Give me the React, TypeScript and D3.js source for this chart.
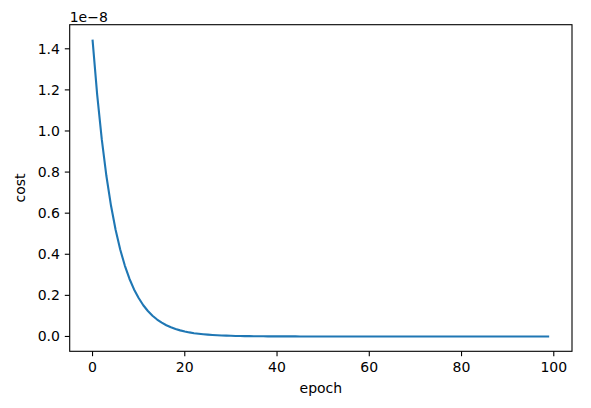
import React from "react";
import * as d3 from "d3";

const epochs: number[] = Array.from({ length: 100 }, (_, i) => i);
// cost values in units of 1e-8
const costHead: number[] = [
  1.445, 1.178, 0.96, 0.782, 0.637, 0.519, 0.423, 0.345, 0.281, 0.229,
  0.187, 0.152, 0.124, 0.101, 0.0824, 0.0672, 0.0547, 0.0446, 0.0364, 0.0296,
  0.0242, 0.0197, 0.016, 0.0131, 0.0107, 0.0087, 0.0071, 0.0058, 0.0047, 0.0038,
  0.0031, 0.0025, 0.0021, 0.0017, 0.0014, 0.0011, 0.0009, 0.0007, 0.0006, 0.0005,
  0.0004, 0.0003, 0.0003, 0.0002, 0.0002, 0.0001, 0.0001, 0.0001, 0.0001, 0.0001,
];
const costTail: number[] = new Array(50).fill(0);
const cost: number[] = [...costHead, ...costTail];

const xTicks: number[] = [0, 20, 40, 60, 80, 100];
const yTicks: number[] = [0, 0.2, 0.4, 0.6, 0.8, 1.0, 1.2, 1.4];
const xLabel = "epoch";
const yLabel = "cost";
const offsetText = "1e\u22128";

const W = 591;
const H = 408;
const left = 69.7;
const right = 572;
const top = 24.7;
const bottom = 351.3;
const font = "'DejaVu Sans', sans-serif";
const fs = 14;

export default function App() {
  const x = d3.scaleLinear().domain([-4.95, 103.95]).range([left, right]);
  const ymax = d3.max(cost) as number;
  const pad = ymax * 0.05;
  const y = d3.scaleLinear().domain([-pad, ymax + pad]).range([bottom, top]);
  const line = d3
    .line<number>()
    .x((_, i) => x(epochs[i]))
    .y((d) => y(d));
  const tl = 4.9;
  return (
    <svg width={W} height={H} style={{ position: "absolute", left: 0, top: 0, background: "#fff" }}>
      <rect x={0} y={0} width={W} height={H} fill="#fff" />
      <path d={line(cost) || ""} fill="none" stroke="#1f77b4" strokeWidth={2.1} strokeLinejoin="round" strokeLinecap="butt" />
      <rect x={left} y={top} width={right - left} height={bottom - top} fill="none" stroke="#000" strokeWidth={1.1} />
      {xTicks.map((t) => (
        <g key={"x" + t}>
          <line x1={x(t)} x2={x(t)} y1={bottom} y2={bottom + tl} stroke="#000" strokeWidth={1.1} />
          <text x={x(t)} y={bottom + tl + 4.9} dy="0.76em" textAnchor="middle" fontFamily={font} fontSize={fs} fill="#000">
            {t}
          </text>
        </g>
      ))}
      {yTicks.map((t) => (
        <g key={"y" + t}>
          <line x1={left - tl} x2={left} y1={y(t)} y2={y(t)} stroke="#000" strokeWidth={1.1} />
          <text x={left - tl - 4.9} y={y(t)} dy="0.36em" textAnchor="end" fontFamily={font} fontSize={fs} fill="#000">
            {t.toFixed(1)}
          </text>
        </g>
      ))}
      <text x={left} y={21.5} fontFamily={font} fontSize={fs} fill="#000">
        {offsetText}
      </text>
      <text x={(left + right) / 2} y={393} textAnchor="middle" fontFamily={font} fontSize={fs} fill="#000">
        {xLabel}
      </text>
      <text
        transform={`translate(25, ${(top + bottom) / 2}) rotate(-90)`}
        textAnchor="middle"
        fontFamily={font}
        fontSize={fs}
        fill="#000"
      >
        {yLabel}
      </text>
    </svg>
  );
}
